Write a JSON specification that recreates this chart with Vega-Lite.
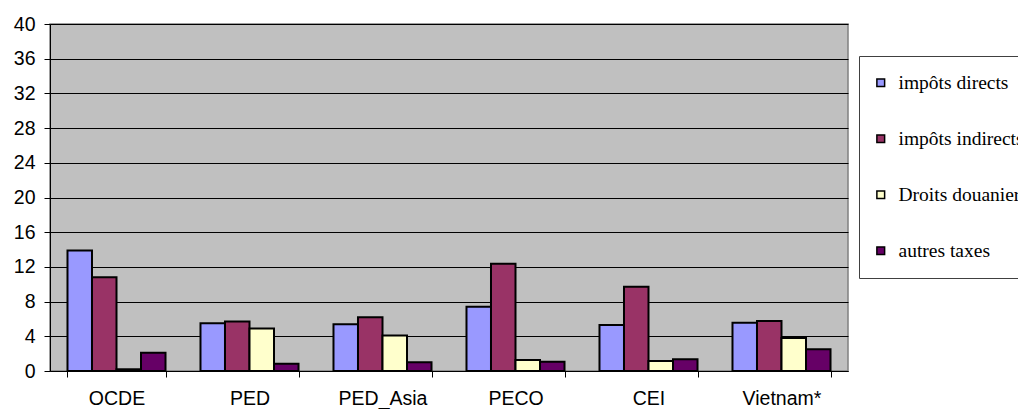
{
  "$schema": "https://vega.github.io/schema/vega-lite/v6.json",
  "width": 798,
  "height": 347,
  "autosize": {"type": "none"},
  "padding": {"left": 50, "top": 24, "right": 170, "bottom": 38},
  "background": "white",
  "data": {
    "values": [
      {"region": "OCDE", "type": "impôts directs", "value": 13.9},
      {"region": "OCDE", "type": "impôts indirects", "value": 10.8},
      {"region": "OCDE", "type": "Droits douaniers", "value": 0.2},
      {"region": "OCDE", "type": "autres taxes", "value": 2.1},
      {"region": "PED", "type": "impôts directs", "value": 5.5},
      {"region": "PED", "type": "impôts indirects", "value": 5.7},
      {"region": "PED", "type": "Droits douaniers", "value": 4.9},
      {"region": "PED", "type": "autres taxes", "value": 0.85},
      {"region": "PED_Asia", "type": "impôts directs", "value": 5.4},
      {"region": "PED_Asia", "type": "impôts indirects", "value": 6.2},
      {"region": "PED_Asia", "type": "Droits douaniers", "value": 4.1},
      {"region": "PED_Asia", "type": "autres taxes", "value": 1.0},
      {"region": "PECO", "type": "impôts directs", "value": 7.4},
      {"region": "PECO", "type": "impôts indirects", "value": 12.35},
      {"region": "PECO", "type": "Droits douaniers", "value": 1.27},
      {"region": "PECO", "type": "autres taxes", "value": 1.08},
      {"region": "CEI", "type": "impôts directs", "value": 5.3},
      {"region": "CEI", "type": "impôts indirects", "value": 9.7},
      {"region": "CEI", "type": "Droits douaniers", "value": 1.15},
      {"region": "CEI", "type": "autres taxes", "value": 1.35},
      {"region": "Vietnam*", "type": "impôts directs", "value": 5.55},
      {"region": "Vietnam*", "type": "impôts indirects", "value": 5.75},
      {"region": "Vietnam*", "type": "Droits douaniers", "value": 3.8},
      {"region": "Vietnam*", "type": "autres taxes", "value": 2.5}
    ]
  },
  "mark": {"type": "bar", "stroke": "black", "strokeWidth": 2, "strokeJoin": "miter"},
  "encoding": {
    "x": {
      "field": "region",
      "type": "nominal",
      "sort": ["OCDE", "PED", "PED_Asia", "PECO", "CEI", "Vietnam*"],
      "scale": {"paddingInner": 0.263, "paddingOuter": 0.1315},
      "axis": {
        "title": null,
        "labelAngle": 0,
        "tickBand": "extent",
        "tickSize": 6,
        "tickColor": "black",
        "domainColor": "black",
        "labelFont": "Liberation Sans",
        "labelFontSize": 19.5,
        "labelColor": "black",
        "labelPadding": 12,
        "grid": false
      }
    },
    "xOffset": {
      "field": "type",
      "type": "nominal",
      "sort": ["impôts directs", "impôts indirects", "Droits douaniers", "autres taxes"],
      "scale": {"paddingInner": 0, "paddingOuter": 0}
    },
    "y": {
      "field": "value",
      "type": "quantitative",
      "scale": {"domain": [0, 40], "nice": false},
      "axis": {
        "title": null,
        "values": [0, 4, 8, 12, 16, 20, 24, 28, 32, 36, 40],
        "tickSize": 6,
        "tickColor": "black",
        "domainColor": "black",
        "gridColor": "black",
        "gridOpacity": 1,
        "labelFont": "Liberation Sans",
        "labelFontSize": 19.5,
        "labelColor": "black",
        "labelPadding": 9
      }
    },
    "color": {
      "field": "type",
      "type": "nominal",
      "scale": {
        "domain": ["impôts directs", "impôts indirects", "Droits douaniers", "autres taxes"],
        "range": ["#9999FF", "#993366", "#FFFFCC", "#660066"]
      },
      "legend": {
        "title": null,
        "orient": "none",
        "legendX": 809,
        "legendY": 32,
        "symbolType": "square",
        "symbolSize": 60,
        "symbolStrokeColor": "black",
        "symbolStrokeWidth": 1.5,
        "symbolOffset": -5,
        "labelFont": "Liberation Serif",
        "labelFontSize": 19.5,
        "labelColor": "black",
        "labelOffset": 8,
        "labelLimit": 300,
        "rowPadding": 35,
        "padding": 17,
        "strokeColor": "#404040",
        "fillColor": "white"
      }
    }
  },
  "config": {
    "view": {"fill": "#C0C0C0", "stroke": "#808080", "strokeWidth": 1.5}
  }
}
